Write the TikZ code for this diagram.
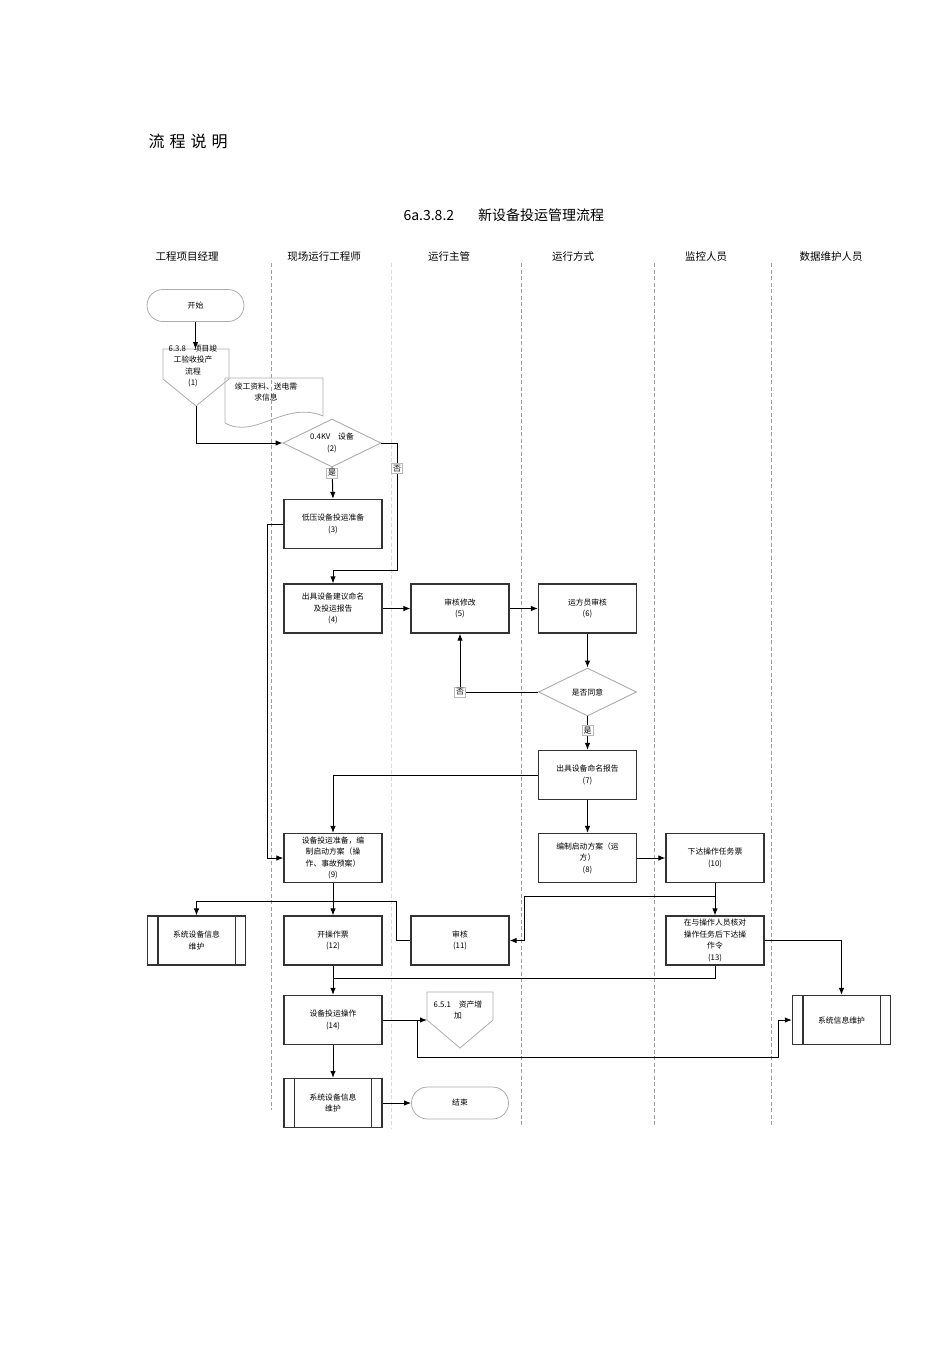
\documentclass[tikz,border=0pt]{standalone}
\usepackage{fontspec}
\setmainfont{Noto Sans CJK SC}
\usetikzlibrary{calc, arrows.meta, shapes.geometric, positioning}
\tikzset{>={Latex[length=7pt,width=5.5pt]}}
\newcommand{\boxfont}{\fontsize{7.8}{11.5}\selectfont}
% the two inner bars of a predefined-process box
\newcommand{\sysbars}[1]{%
  \draw[boxline] ([xshift=11]#1.north west) -- ([xshift=11]#1.south west)
    ([xshift=-11]#1.north east) -- ([xshift=-11]#1.south east);}
\tikzset{
  boxline/.style={draw=black!80, line width=1.2pt},
  procbox/.style={boxline, rectangle, minimum width=98pt, minimum height=49pt,
    inner sep=1pt, align=center, font=\boxfont},
  termnode/.style={draw=gray!65, line width=0.8pt, rectangle, rounded corners=16pt,
    minimum width=97pt, minimum height=32pt, font=\boxfont},
  decision/.style={diamond, aspect=2, draw=gray!65, line width=0.9pt,
    minimum width=98pt, minimum height=48pt, inner sep=0pt, align=center, font=\boxfont},
  pagenode/.style={rectangle, inner sep=0pt, align=center, font=\boxfont},
  pageline/.style={draw=gray!65, line width=0.8pt},
  yesno/.style={draw=gray!55, fill=white, line width=0.5pt, inner sep=1.5pt,
    font=\fontsize{8}{8}\selectfont},
  flowline/.style={->, line width=1pt},
  plainline/.style={line width=1pt},
  laneline/.style={line width=0.9pt, dash pattern=on 4pt off 2.5pt},
  lanehead/.style={font=\fontsize{10.5}{10.5}\selectfont, text height=9pt, text depth=1.5pt}
}

\begin{document}
\begin{tikzpicture}[x=1pt, y=-1pt]
\useasboundingbox (0,0) rectangle (950,1345);

% headings
\node[anchor=west, font=\fontsize{16}{16}\selectfont] (title) at (145,141)
  {流\hspace{5pt}程\hspace{5pt}说\hspace{5pt}明};
\node[anchor=west, font=\fontsize{14}{14}\selectfont] (subtitle) at (400,215)
  {6a.3.8.2\hspace{24pt}新设备投运管理流程};

% swim lanes
\foreach \x/\t [count=\i] in {187/工程项目经理, 324/现场运行工程师, 449/运行主管,
    573/运行方式, 706/监控人员, 831/数据维护人员}
  \node[lanehead] (head\i) at (\x,257) {\t};
\foreach \x/\c/\e in {271/gray!75/1110, 391/gray!30/1128, 521/gray!75/1125,
    654/gray!75/1125, 771/gray!75/1125}
  \draw[laneline, draw=\c] (\x,263) -- (\x,\e);

% start, off-page link and document
\node[termnode] (start) at (195.5,305.5) {开始};
\draw[pageline] (163,349) coordinate (p0top) -- (229,349) -- (229,379)
  -- (196,406) coordinate (p0tip) -- (163,379) -- cycle;
\node[pagenode] (p0) at (193,366) {6.3.8\quad 项目竣\\工验收投产\\流程\\(1)};
\draw[pageline] (225,423) -- (225,378) -- (323,378) -- (323,416)
  .. controls (285,400) and (255,440) .. (225,423);
\node[pagenode] (doc) at (266,392) {竣工资料、送电需\\求信息};

% steps
\node[decision] (d2) at (332,443) {0.4KV\quad 设备\\(2)};
\node[procbox] (b3) at (333,524) {低压设备投运准备\\(3)};
\node[procbox] (b4) at (333,608.5) {出具设备建议命名\\及投运报告\\(4)};
\node[procbox] (b5) at (460,608.5) {审核修改\\(5)};
\node[procbox] (b6) at (587.5,608.5) {运方员审核\\(6)};
\node[decision] (d3) at (587.5,692) {是否同意};
\node[procbox] (b7) at (587.5,775) {出具设备命名报告\\(7)};
\node[procbox] (b8) at (587.5,858) {编制启动方案（运\\方）\\(8)};
\node[procbox] (b9) at (333,858) {设备投运准备，编\\制启动方案（操\\作、事故预案）\\(9)};
\node[procbox] (b10) at (715,858) {下达操作任务票\\(10)};
\node[procbox] (s1) at (196.5,940.5) {系统设备信息\\维护};
\node[procbox] (b12) at (333,940.5) {开操作票\\(12)};
\node[procbox] (b11) at (460,940.5) {审核\\(11)};
\node[procbox] (b13) at (715,940.5) {在与操作人员核对\\操作任务后下达操\\作令\\(13)};
\node[procbox] (b14) at (333,1020) {设备投运操作\\(14)};
\draw[pageline] (427,992) -- (493,992) -- (493,1020) -- (460,1048)
  -- (427,1020) coordinate (p1in) -- cycle;
\node[pagenode] (p1) at (458,1010) {6.5.1\quad 资产增\\加};
\node[procbox] (s2) at (841.5,1020) {系统信息维护};
\node[procbox] (s3) at (333,1103) {系统设备信息\\维护};
\node[termnode] (stop) at (460,1103) {结束};
\sysbars{s1} \sysbars{s2} \sysbars{s3}

% connectors
\draw[flowline] (start.south) -- (p0top -| start.south);
\draw[flowline] (p0tip) |- (d2.west);
\draw[flowline] (d2.south) -- node[yesno, pos=0.17] {是} (b3.north);
\draw[flowline] (d2.east) -| node[yesno, pos=0.6] {否} ($(b4.north)+(64,-13)$) -| (b4.north);
\draw[flowline] (b3.west) -- ++(-16,0) |- (b9.west);
\draw[flowline] (b4.east) -- (b5.west);
\draw[flowline] (b5.east) -- (b6.west);
\draw[flowline] (b6.south) -- (d3.north);
\draw[flowline] (d3.west) -| node[yesno, pos=0.5] {否} (b5.south);
\draw[flowline] (d3.south) -- node[yesno, pos=0.42] {是} (b7.north);
\draw[flowline] (b7.west) -| (b9.north);
\draw[flowline] (b7.south) -- (b8.north);
\draw[flowline] (b8.east) -- (b10.west);
\draw[flowline] (b9.south) -- (b12.north);
\draw[flowline] (b10.south) -- (b13.north);
\draw[flowline] ($(b10.south)+(0,13)$) -| ($(b11.east)+(15,0)$) -- (b11.east);
\draw[flowline] (b11.west) -- ++(-14,0) -- ++(0,-39) -| (s1.north);
\draw[flowline] (b13.east) -| (s2.north);
\draw[plainline] (b13.south) |- ($(b12.south)+(0,13)$);
\draw[flowline] (b12.south) -- (b14.north);
\draw[flowline] (b14.east) -- (p1in);
\draw[flowline] ($(p1in)+(-10,0)$) -- ++(0,37) -| ($(s2.west)+(-13,0)$) -- (s2.west);
\draw[flowline] (b14.south) -- (s3.north);
\draw[flowline] (s3.east) -- (stop.west);
\end{tikzpicture}
\end{document}
